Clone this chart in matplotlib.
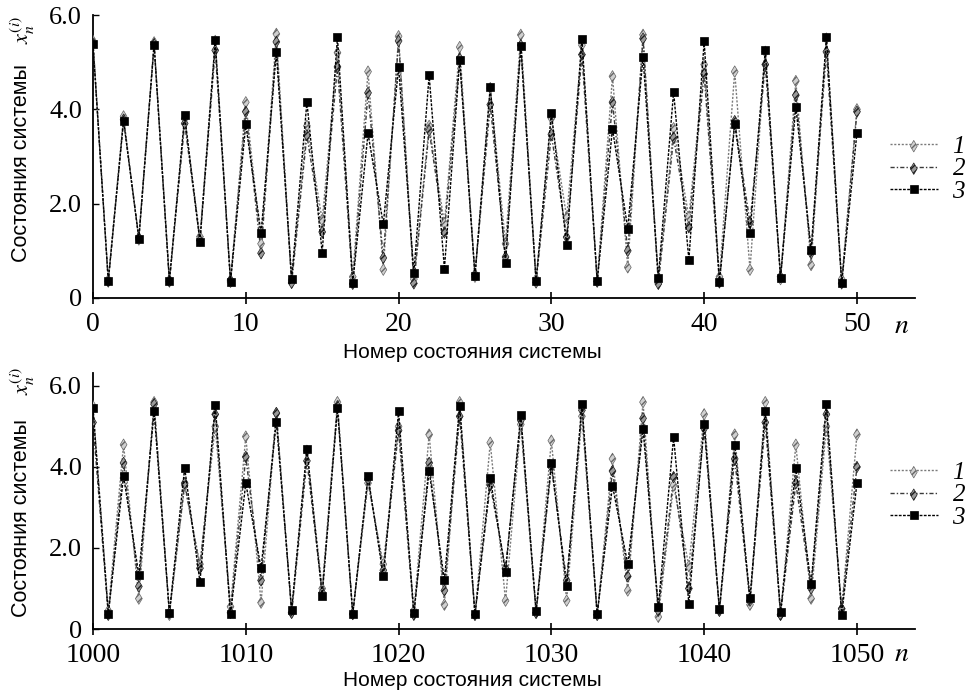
import matplotlib
matplotlib.use("Agg")
import matplotlib.pyplot as plt
from matplotlib.legend_handler import HandlerTuple
import numpy as np

# ---------------- data ----------------
n_top = list(range(0, 51))
top_s3 = [5.38, 0.36, 3.76, 1.26, 5.36, 0.36, 3.87, 1.19, 5.46, 0.34,
          3.68, 1.37, 5.21, 0.41, 4.15, 0.96, 5.53, 0.31, 3.49, 1.56,
          4.90, 0.53, 4.72, 0.62, 5.04, 0.47, 4.48, 0.75, 5.34, 0.36,
          3.93, 1.12, 5.50, 0.35, 3.59, 1.47, 5.11, 0.43, 4.37, 0.81,
          5.44, 0.34, 3.69, 1.37, 5.25, 0.43, 4.06, 1.01, 5.53, 0.31, 3.50]
top_s1 = [5.45, 0.38, 3.85, 1.24, 5.42, 0.38, 3.80, 1.30, 5.45, 0.34,
          4.15, 1.15, 5.60, 0.38, 3.65, 1.65, 5.20, 0.45, 4.80, 0.60,
          5.55, 0.40, 3.65, 1.58, 5.32, 0.45, 4.45, 1.15, 5.58, 0.40,
          3.81, 1.71, 5.36, 0.35, 4.70, 0.65, 5.58, 0.40, 3.60, 1.71,
          4.95, 0.45, 4.80, 0.60, 5.22, 0.40, 4.60, 0.70, 5.50, 0.40, 4.00]
top_s2 = [5.40, 0.35, 3.78, 1.28, 5.38, 0.35, 3.70, 1.22, 5.25, 0.38,
          3.95, 0.95, 5.43, 0.32, 3.45, 1.40, 4.90, 0.30, 4.35, 0.85,
          5.45, 0.31, 3.55, 1.39, 5.08, 0.50, 4.10, 0.87, 5.36, 0.33,
          3.47, 1.29, 5.16, 0.35, 4.15, 1.00, 5.50, 0.30, 3.40, 1.50,
          4.75, 0.33, 3.75, 1.60, 4.95, 0.45, 4.30, 0.95, 5.22, 0.31, 3.95]

n_bot = list(range(1000, 1051))
bot_s3 = [5.45, 0.37, 3.78, 1.33, 5.37, 0.40, 3.98, 1.16, 5.54, 0.36,
          3.60, 1.50, 5.12, 0.47, 4.45, 0.82, 5.45, 0.37, 3.78, 1.30,
          5.37, 0.39, 3.91, 1.20, 5.51, 0.36, 3.72, 1.41, 5.29, 0.44,
          4.10, 1.05, 5.56, 0.36, 3.54, 1.60, 4.94, 0.54, 4.74, 0.62,
          5.07, 0.49, 4.54, 0.76, 5.37, 0.41, 3.97, 1.11, 5.55, 0.35, 3.60]
bot_s1 = [5.50, 0.45, 4.55, 0.75, 5.60, 0.35, 3.55, 1.60, 5.00, 0.55,
          4.75, 0.65, 5.33, 0.40, 4.40, 1.00, 5.60, 0.37, 3.60, 1.60,
          5.00, 0.45, 4.80, 0.60, 5.60, 0.35, 4.60, 0.70, 5.05, 0.40,
          4.65, 0.70, 5.25, 0.35, 4.20, 0.95, 5.60, 0.30, 3.55, 1.55,
          5.30, 0.45, 4.80, 0.60, 5.60, 0.35, 4.55, 0.75, 5.00, 0.50, 4.80]
bot_s2 = [5.10, 0.35, 4.10, 1.05, 5.55, 0.40, 3.60, 1.50, 5.30, 0.40,
          4.25, 1.20, 5.33, 0.40, 4.15, 0.90, 5.50, 0.37, 3.70, 1.45,
          4.90, 0.35, 4.10, 0.95, 5.25, 0.35, 3.55, 1.50, 5.15, 0.40,
          4.00, 1.20, 5.40, 0.35, 3.90, 1.30, 5.20, 0.45, 3.75, 1.00,
          4.95, 0.45, 4.20, 0.70, 5.10, 0.35, 3.60, 1.00, 5.30, 0.50, 4.00]

series_labels = ["1", "2", "3"]
ytick_vals = [0, 2.0, 4.0, 6.0]
ytick_labels = ["0", "2.0", "4.0", "6.0"]
xticks_top = [0, 10, 20, 30, 40, 50]
xticks_bot = [1000, 1010, 1020, 1030, 1040, 1050]
xlabel_text = "Номер состояния системы"
ylabel_text = "Состояния системы"
ylabel_math = "$x_n^{(i)}$"

# ---------------- style ----------------
plt.rcParams["mathtext.fontset"] = "stix"
plt.rcParams["hatch.linewidth"] = 1.0
serif = "Liberation Serif"
sans = "Liberation Sans"

fig = plt.figure(figsize=(9.76, 6.97), dpi=100)
W, H = 976.0, 697.0
ax_top = fig.add_axes([93 / W, 1 - 298 / H, (915 - 93) / W, (298 - 15) / H])
ax_bot = fig.add_axes([93 / W, 1 - 629 / H, (915 - 93) / W, (629 - 373) / H])


def draw(ax, xs, s1, s2, s3, xlim, ylim, xticks):
    l1, = ax.plot(xs, s1, color="#7a7a7a", lw=1.0, ls=(0, (1.5, 1.2)), zorder=2)
    p1 = ax.scatter(xs, s1, marker="d", s=34, facecolor="#d0d0d0",
                    edgecolor="#666666", hatch="/////", linewidths=0.5, zorder=3)
    l2, = ax.plot(xs, s2, color="#3a3a3a", lw=1.0, ls=(0, (3, 1.5, 1, 1.5)), zorder=2)
    p2 = ax.scatter(xs, s2, marker="d", s=34, facecolor="#9a9a9a",
                    edgecolor="#1e1e1e", hatch="/////", linewidths=0.5, zorder=3)
    l3, = ax.plot(xs, s3, color="black", lw=1.0, ls=(0, (2, 1)),
                  marker="s", ms=6.0, mfc="black", mec="black", mew=0.5, zorder=4)
    ax.set_xlim(*xlim)
    ax.set_ylim(*ylim)
    ax.set_xticks(xticks)
    ax.set_xticklabels([str(t) for t in xticks], fontfamily=serif, fontsize=20)
    ax.set_yticks(ytick_vals)
    ax.set_yticklabels(ytick_labels, fontfamily=serif, fontsize=19)
    ax.tick_params(axis="x", direction="inout", length=8, width=1.2, pad=6)
    ax.tick_params(axis="y", direction="in", length=4, width=1.0, pad=8)
    for sp in ("top", "right"):
        ax.spines[sp].set_visible(False)
    for sp in ("left", "bottom"):
        ax.spines[sp].set_linewidth(1.3)
    return [(l1, p1), (l2, p2), (l3,)]


h_top = draw(ax_top, n_top, top_s1, top_s2, top_s3, (0, 53.8), (0, 6.0), xticks_top)
h_bot = draw(ax_bot, n_bot, bot_s1, bot_s2, bot_s3, (1000, 1053.8), (0, 6.32), xticks_bot)

leg_prop = {"family": serif, "style": "italic", "size": 18}
for hs, yc in ((h_top, 1 - 169 / H), (h_bot, 1 - 495 / H)):
    fig.legend(hs, series_labels, loc="center left", bbox_to_anchor=(890 / W, yc),
               frameon=False, prop=leg_prop, handlelength=1.9, handletextpad=0.6,
               labelspacing=0.0, borderpad=0.0, borderaxespad=0.0, scatterpoints=1,
               handler_map={tuple: HandlerTuple(ndivide=1)})

# axis labels
for ylab_y, ymath_y, xlab_y, n_y in ((1 - 163 / H, 1 - 30 / H, 1 - 352 / H, 1 - 325 / H),
                                     (1 - 518 / H, 1 - 381 / H, 1 - 680 / H, 1 - 653 / H)):
    fig.text(22 / W, ylab_y, ylabel_text, rotation=90, ha="center", va="center",
             fontfamily=sans, fontsize=15.5)
    fig.text(23 / W, ymath_y, ylabel_math, rotation=90, ha="center", va="center",
             fontsize=16)
    fig.text(472 / W, xlab_y, xlabel_text, ha="center", va="center",
             fontfamily=sans, fontsize=15)
    fig.text(902 / W, n_y, "$n$", ha="center", va="center", fontsize=20)

fig.savefig("out.png", dpi=100)
